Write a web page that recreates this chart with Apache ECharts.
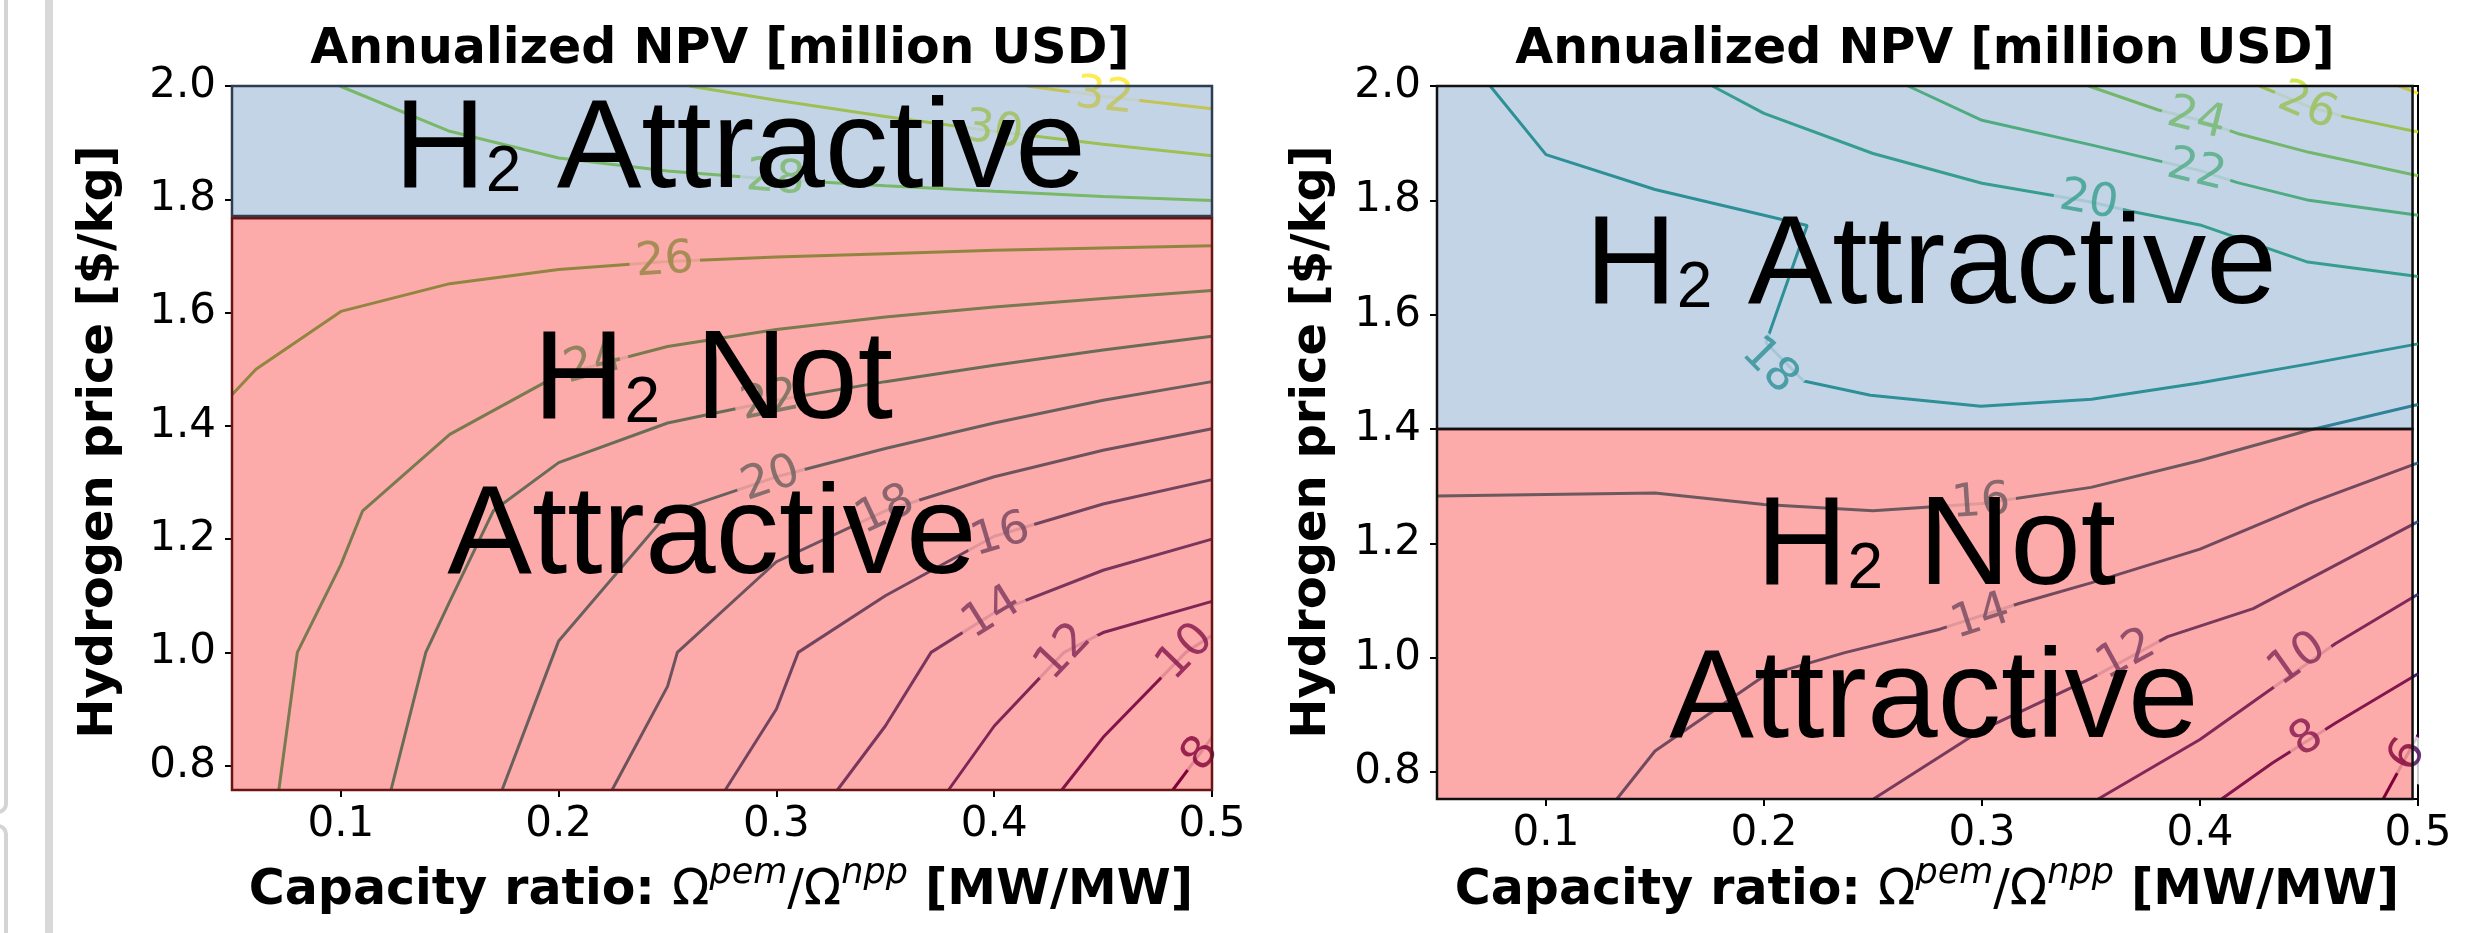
<!DOCTYPE html>
<html>
<head>
<meta charset="utf-8">
<title>Annualized NPV</title>
<script src="https://cdn.jsdelivr.net/npm/echarts@6.0.0/dist/echarts.min.js"></script>
<style>
  html, body { margin: 0; padding: 0; background: #fff; }
  #main { width: 2475px; height: 933px; }
</style>
</head>
<body>
<div id="main"></div>
<script>
// axis ticks
const xTicks = [0.1, 0.2, 0.3, 0.4, 0.5];
const yTicks = [0.8, 1.0, 1.2, 1.4, 1.6, 1.8, 2.0];

// left panel: contour levels, paths [x, y] and label anchors
const leftLevels = [8, 10, 12, 14, 16, 18, 20, 22, 24, 26, 28, 30, 32];
const leftPaths = [
  [[0.482, 0.757], [0.5, 0.85]],
  [[0.431, 0.757], [0.45, 0.85], [0.488, 1.0], [0.5, 1.03]],
  [[0.379, 0.757], [0.40, 0.87], [0.432, 1.0], [0.45, 1.035], [0.5, 1.09]],
  [[0.328, 0.757], [0.35, 0.87], [0.371, 1.0], [0.4, 1.07], [0.45, 1.145], [0.5, 1.2]],
  [[0.2765, 0.757], [0.30, 0.90], [0.31, 1.0], [0.35, 1.10], [0.4, 1.205], [0.45, 1.262], [0.5, 1.305]],
  [[0.2245, 0.757], [0.25, 0.94], [0.2545, 1.0], [0.3, 1.16], [0.35, 1.25], [0.4, 1.31], [0.45, 1.357], [0.5, 1.395]],
  [[0.174, 0.757], [0.198, 1.0], [0.2, 1.02], [0.25, 1.245], [0.3, 1.31], [0.35, 1.36], [0.4, 1.405], [0.45, 1.445], [0.5, 1.478]],
  [[0.123, 0.757], [0.139, 1.0], [0.15, 1.09], [0.17, 1.25], [0.2, 1.335], [0.25, 1.405], [0.3, 1.445], [0.35, 1.478], [0.4, 1.507], [0.45, 1.534], [0.5, 1.558]],
  [[0.0715, 0.757], [0.08, 1.0], [0.1, 1.155], [0.11, 1.25], [0.15, 1.385], [0.2, 1.49], [0.25, 1.54], [0.3, 1.57], [0.35, 1.592], [0.4, 1.61], [0.45, 1.625], [0.5, 1.639]],
  [[0.05, 1.455], [0.061, 1.5], [0.1, 1.602], [0.15, 1.651], [0.2, 1.676], [0.25, 1.69], [0.3, 1.698], [0.35, 1.704], [0.4, 1.71], [0.45, 1.714], [0.5, 1.718]],
  [[0.0995, 2.0], [0.15, 1.92], [0.2, 1.873], [0.25, 1.85], [0.3, 1.835], [0.35, 1.824], [0.4, 1.814], [0.45, 1.805], [0.5, 1.798]],
  [[0.26, 2.0], [0.3, 1.975], [0.35, 1.946], [0.4, 1.92], [0.45, 1.897], [0.5, 1.877]],
  [[0.415, 2.0], [0.45, 1.982], [0.5, 1.96]]
];
const leftLabels = [
  [0.495, 0.82], [0.488, 1.0], [0.432, 1.0], [0.399, 1.069], [0.403, 1.206],
  [0.35, 1.25], [0.2975, 1.305], [0.297, 1.443], [0.216, 1.51], [0.2487, 1.69],
  [0.2995, 1.835], [0.3997, 1.92], [0.4506, 1.98]
];
// [x0, x1, y0, y1]: blue "attractive" band, red "not attractive" band
const leftZones = [[0.05, 0.5, 1.7705, 2.0], [0.05, 0.5, 0.757, 1.7665]];

// right panel
const rightLevels = [6, 8, 10, 12, 14, 16, 18, 20, 22, 24, 26, 28];
const rightPaths = [
  [[0.484, 0.753], [0.5, 0.865]],
  [[0.4099, 0.753], [0.4332, 0.816], [0.4622, 0.886], [0.5, 0.972]],
  [[0.3533, 0.753], [0.4, 0.857], [0.4244, 0.923], [0.4622, 1.025], [0.5, 1.111]],
  [[0.2502, 0.753], [0.3, 0.874], [0.35, 0.964], [0.3852, 1.037], [0.4244, 1.086], [0.5, 1.238]],
  [[0.1325, 0.753], [0.15, 0.837], [0.2, 0.968], [0.2371, 1.009], [0.2807, 1.05], [0.317, 1.095], [0.35, 1.131], [0.4, 1.19], [0.45, 1.27], [0.5, 1.341]],
  [[0.05, 1.283], [0.15, 1.288], [0.2, 1.268], [0.25, 1.257], [0.3, 1.27], [0.35, 1.298], [0.4, 1.345], [0.45, 1.398], [0.5, 1.443]],
  [[0.0744, 2.0], [0.1, 1.88], [0.15, 1.819], [0.2, 1.774], [0.2198, 1.756], [0.2009, 1.551], [0.2182, 1.484], [0.2488, 1.459], [0.2995, 1.44], [0.3503, 1.452], [0.4003, 1.481], [0.45, 1.514], [0.5, 1.549]],
  [[0.1763, 2.0], [0.2, 1.952], [0.25, 1.882], [0.3, 1.83], [0.35, 1.797], [0.3682, 1.781], [0.4, 1.757], [0.4494, 1.692], [0.5, 1.667]],
  [[0.2661, 2.0], [0.3, 1.94], [0.35, 1.897], [0.4, 1.852], [0.4172, 1.831], [0.45, 1.8], [0.5, 1.774]],
  [[0.3489, 2.0], [0.3809, 1.958], [0.4, 1.94], [0.4172, 1.917], [0.45, 1.884], [0.5, 1.843]],
  [[0.4273, 2.0], [0.45, 1.964], [0.4665, 1.946], [0.5, 1.9195]],
  [[0.4912, 2.0], [0.5, 1.987]]
];
const rightLabels = [
  [0.4955, 0.829], [0.4491, 0.8573], [0.4448, 0.9964], [0.3663, 1.0046], [0.2995, 1.07],
  [0.2995, 1.2705], [0.2024, 1.51], [0.3489, 1.7984], [0.3983, 1.8516], [0.3983, 1.9416],
  [0.4491, 1.9637], null
];
const rightZones = [[0.05, 0.4975, 1.4, 2.0], [0.05, 0.4975, 0.753, 1.4]];

const VIRIDIS = ['#440154', '#482475', '#414487', '#355f8d', '#2a788e', '#21918c',
  '#22a884', '#44bf70', '#7ad151', '#bddf26', '#fde725'];
function hexRgb(h) {
  return [1, 3, 5].map(i => parseInt(h.substr(i, 2), 16));
}
function viridis(t) {
  t = Math.max(0, Math.min(1, t));
  const s = t * 10, i = Math.min(9, Math.floor(s)), f = s - i;
  const a = hexRgb(VIRIDIS[i]), b = hexRgb(VIRIDIS[i + 1]);
  return 'rgb(' + [0, 1, 2].map(k => Math.round(a[k] + (b[k] - a[k]) * f)).join(',') + ')';
}

const FONT = 'DejaVu Sans';
const BIG = 'Liberation Sans';

function contourSeries(p, levels, paths) {
  const lo = levels[0], hi = levels[levels.length - 1];
  return levels.map((lv, i) => ({
    type: 'line', xAxisIndex: p, yAxisIndex: p,
    data: paths[i], symbol: 'none', silent: true, animation: false, z: 2,
    lineStyle: { color: viridis((lv - lo) / (hi - lo)), width: 3 }
  }));
}

function labelSeries(id, p, levels, labels, rot) {
  const lo = levels[0], hi = levels[levels.length - 1];
  const data = [];
  levels.forEach((lv, i) => {
    if (!labels[i]) return;
    data.push({
      name: String(lv), value: labels[i],
      label: { color: viridis((lv - lo) / (hi - lo)), rotate: rot ? rot[i] : 0 }
    });
  });
  return {
    id, type: 'scatter', xAxisIndex: p, yAxisIndex: p, z: 3,
    symbolSize: 0.1, itemStyle: { color: 'transparent' }, silent: true, animation: false,
    data,
    label: {
      show: true, position: 'inside', formatter: '{b}',
      fontFamily: FONT, fontSize: 46, backgroundColor: '#fff', padding: [0, 6]
    }
  };
}

function zoneSeries(p, zones, styles) {
  return {
    type: 'custom', xAxisIndex: p, yAxisIndex: p, z: 5, silent: true, animation: false,
    data: zones,
    encode: { x: [0, 1], y: [2, 3] },
    renderItem: (params, api) => {
      const a = api.coord([api.value(0), api.value(3)]);
      const b = api.coord([api.value(1), api.value(2)]);
      const st = styles[params.dataIndex];
      return {
        type: 'rect',
        shape: { x: a[0], y: a[1], width: b[0] - a[0], height: b[1] - a[1] },
        style: { fill: st.fill, stroke: st.stroke, lineWidth: 2.5 }
      };
    }
  };
}

const leftZoneStyle = [
  { fill: 'rgba(70,120,180,0.32)', stroke: '#2e3d52' },
  { fill: 'rgba(250,0,0,0.335)', stroke: '#6a1414' }
];
const rightZoneStyle = [
  { fill: 'rgba(70,120,180,0.32)', stroke: '#111' },
  { fill: 'rgba(250,0,0,0.335)', stroke: '#111' }
];

function xAxis(p) {
  return {
    gridIndex: p, type: 'value', min: 0.05, max: 0.5,
    axisLine: { show: true, onZero: false, lineStyle: { color: '#000', width: 2 } },
    axisTick: { show: true, length: 7, customValues: xTicks, lineStyle: { color: '#000', width: 2 } },
    axisLabel: { customValues: xTicks, formatter: v => v.toFixed(1), fontFamily: FONT, fontSize: 42, color: '#000', margin: 14 },
    splitLine: { show: false }
  };
}
function yAxis(p, min) {
  return {
    gridIndex: p, type: 'value', min: min, max: 2.0,
    axisLine: { show: true, onZero: false, lineStyle: { color: '#000', width: 2 } },
    axisTick: { show: true, length: 7, customValues: yTicks, lineStyle: { color: '#000', width: 2 } },
    axisLabel: { customValues: yTicks, formatter: v => v.toFixed(1), fontFamily: FONT, fontSize: 42, color: '#000', margin: 16 },
    splitLine: { show: false }
  };
}

// tokens share one vertical alignment; padding shifts the small digits
function bigText(x, y, text) {
  return {
    type: 'text', x, y, z: 100, silent: true,
    style: {
      text, align: 'center', verticalAlign: 'bottom', fill: '#000',
      rich: {
        h: { fontFamily: BIG, fontSize: 127, lineHeight: 127, verticalAlign: 'middle', color: '#000' },
        s: { fontFamily: BIG, fontSize: 64, lineHeight: 64, padding: [44, 0, 0, 0], verticalAlign: 'middle', color: '#000' }
      }
    }
  };
}
function titleText(x, y) {
  return {
    type: 'text', x, y, z: 100, silent: true,
    style: { text: 'Annualized NPV [million USD]', align: 'center', verticalAlign: 'middle',
      fontFamily: FONT, fontWeight: 'bold', fontSize: 49, fill: '#000' }
  };
}
function yName(x, y) {
  return {
    type: 'text', x, y, rotation: Math.PI / 2, z: 100, silent: true,
    style: { text: 'Hydrogen price [$/kg]', align: 'center', verticalAlign: 'middle',
      fontFamily: FONT, fontWeight: 'bold', fontSize: 48, fill: '#000' }
  };
}
function xName(x, y) {
  return {
    type: 'text', x, y, z: 100, silent: true,
    style: {
      text: '{b|Capacity ratio: }{m|\u03A9}{s|pem}{m|/\u03A9}{s|npp}{b| [MW/MW]}',
      align: 'center', verticalAlign: 'middle',
      rich: {
        b: { fontFamily: FONT, fontWeight: 'bold', fontSize: 49, lineHeight: 60, verticalAlign: 'middle', color: '#000' },
        m: { fontFamily: FONT, fontSize: 49, lineHeight: 60, verticalAlign: 'middle', color: '#000' },
        s: { fontFamily: FONT, fontStyle: 'italic', fontSize: 35, lineHeight: 35, padding: [0, 0, 34, 0], verticalAlign: 'middle', color: '#000' }
      }
    }
  };
}

const chart = echarts.init(document.getElementById('main'), null, { renderer: 'canvas' });

function buildOption(rotL, rotR) {
  return {
    backgroundColor: '#fff',
    animation: false,
    grid: [
      { left: 232, right: 1263, top: 86, bottom: 143, show: true, borderColor: '#000', borderWidth: 2, backgroundColor: '#fff' },
      { left: 1437, right: 57, top: 86, bottom: 134, show: true, borderColor: '#000', borderWidth: 2, backgroundColor: '#fff' }
    ],
    xAxis: [xAxis(0), xAxis(1)],
    yAxis: [yAxis(0, 0.757), yAxis(1, 0.753)],
    series: [].concat(
      contourSeries(0, leftLevels, leftPaths),
      contourSeries(1, rightLevels, rightPaths),
      [labelSeries('lblL', 0, leftLevels, leftLabels, rotL),
       labelSeries('lblR', 1, rightLevels, rightLabels, rotR),
       zoneSeries(0, leftZones, leftZoneStyle),
       zoneSeries(1, rightZones, rightZoneStyle)]
    ),
    graphic: [
      // bits of the surrounding page on the far left
      { type: 'rect', shape: { x: 45, y: 0, width: 8, height: 933 }, style: { fill: '#d9d9d9' }, silent: true },
      { type: 'rect', shape: { x: -30, y: -20, width: 36, height: 832, r: 8 }, style: { fill: 'none', stroke: '#d4d4d4', lineWidth: 4 }, silent: true },
      { type: 'rect', shape: { x: -30, y: 826, width: 36, height: 200, r: 8 }, style: { fill: 'none', stroke: '#d4d4d4', lineWidth: 4 }, silent: true },
      titleText(720, 50), titleText(1925, 50),
      yName(100, 442), yName(1313, 442),
      xName(721, 891), xName(1927, 891),
      bigText(740, 215, '{h|H}{s|2}{h| Attractive}'),
      bigText(713, 446, '{h|H}{s|2}{h| Not}'),
      bigText(712, 601, '{h|Attractive}'),
      bigText(1931, 331, '{h|H}{s|2}{h| Attractive}'),
      bigText(1936, 612, '{h|H}{s|2}{h| Not}'),
      bigText(1934, 765, '{h|Attractive}')
    ]
  };
}

chart.setOption(buildOption(null, null));

// orient each contour label along the nearest segment of its own line
function rotations(p, paths, labels) {
  return labels.map((lb, i) => {
    if (!lb) return 0;
    const c = chart.convertToPixel({ gridIndex: p }, lb);
    let best = Infinity, ang = 0;
    const path = paths[i];
    for (let k = 0; k < path.length - 1; k++) {
      const a = chart.convertToPixel({ gridIndex: p }, path[k]);
      const b = chart.convertToPixel({ gridIndex: p }, path[k + 1]);
      const dx = b[0] - a[0], dy = b[1] - a[1];
      const len2 = dx * dx + dy * dy || 1;
      let t = ((c[0] - a[0]) * dx + (c[1] - a[1]) * dy) / len2;
      t = Math.max(0, Math.min(1, t));
      const px = a[0] + t * dx - c[0], py = a[1] + t * dy - c[1];
      const d = px * px + py * py;
      if (d < best) {
        best = d;
        let deg = Math.atan2(-dy, dx) * 180 / Math.PI;
        if (deg > 90) deg -= 180;
        if (deg < -90) deg += 180;
        ang = deg;
      }
    }
    return ang;
  });
}

chart.setOption(buildOption(
  rotations(0, leftPaths, leftLabels),
  rotations(1, rightPaths, rightLabels)
));
</script>
</body>
</html>
